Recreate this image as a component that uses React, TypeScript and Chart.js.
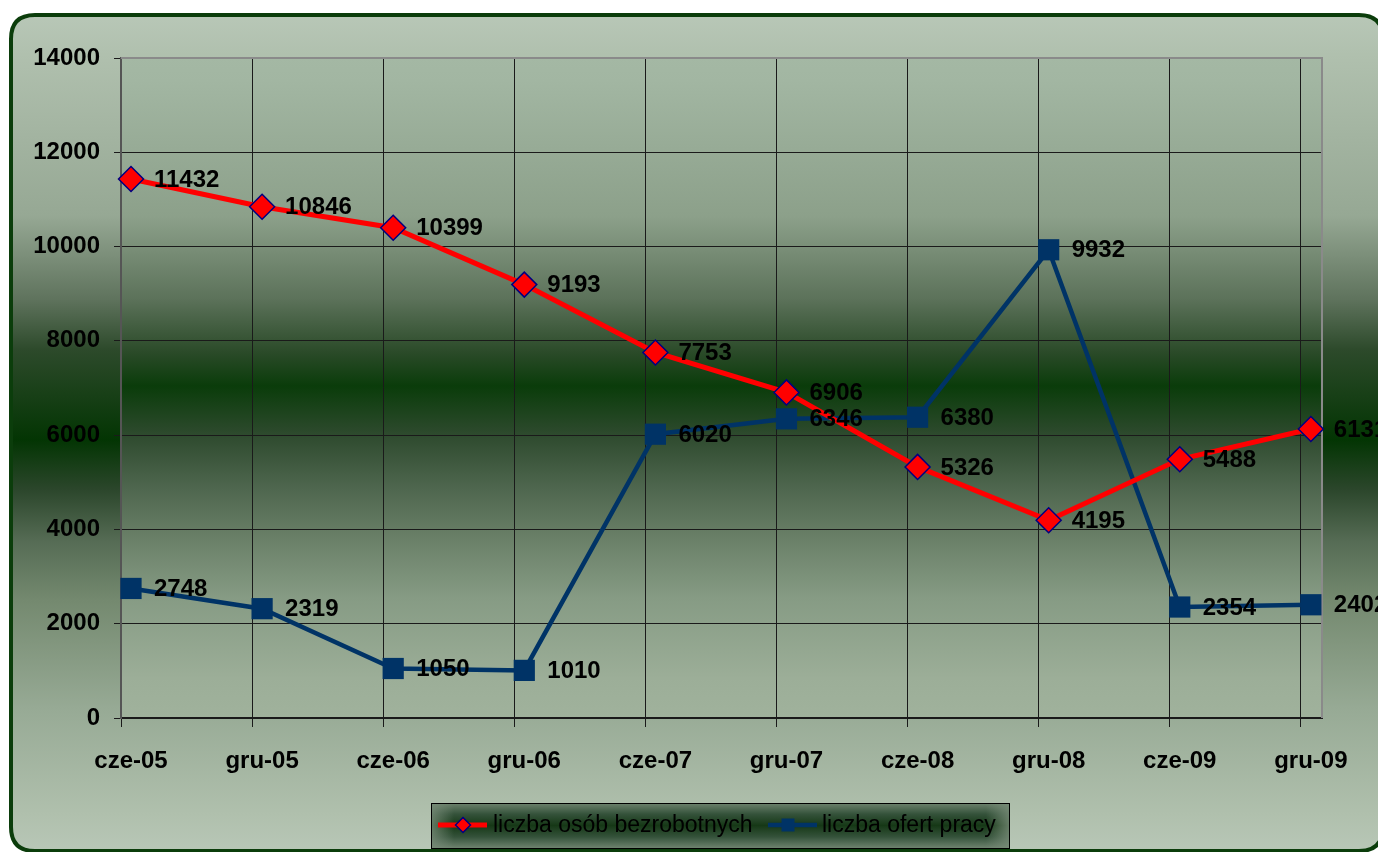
import React, { useEffect, useRef } from 'react';
import { Chart, registerables } from 'chart.js';

Chart.register(...registerables);

const CATEGORIES = ['cze-05', 'gru-05', 'cze-06', 'gru-06', 'cze-07', 'gru-07', 'cze-08', 'gru-08', 'cze-09', 'gru-09'];
const UNEMPLOYED = [11432, 10846, 10399, 9193, 7753, 6906, 5326, 4195, 5488, 6131];
const JOB_OFFERS = [2748, 2319, 1050, 1010, 6020, 6346, 6380, 9932, 2354, 2402];
const SERIES_NAMES = ['liczba osób bezrobotnych', 'liczba ofert pracy'];
const Y_MIN = 0;
const Y_MAX = 14000;
const Y_STEP = 2000;

const FONT = '"Liberation Sans", Arial, sans-serif';
const X_SHIFT = 0.0763;
const RED = '#ff0000';
const NAVY = '#003366';

function roundRectPath(ctx: CanvasRenderingContext2D, x: number, y: number, w: number, h: number, r: number) {
  ctx.beginPath();
  ctx.moveTo(x + r, y);
  ctx.lineTo(x + w - r, y);
  ctx.quadraticCurveTo(x + w, y, x + w, y + r);
  ctx.lineTo(x + w, y + h - r);
  ctx.quadraticCurveTo(x + w, y + h, x + w - r, y + h);
  ctx.lineTo(x + r, y + h);
  ctx.quadraticCurveTo(x, y + h, x, y + h - r);
  ctx.lineTo(x, y + r);
  ctx.quadraticCurveTo(x, y, x + r, y);
  ctx.closePath();
}

const backgroundPlugin = {
  id: 'bgPlugin',
  beforeDraw(chart: any) {
    const { ctx, width, height, chartArea: a } = chart;
    ctx.save();
    ctx.fillStyle = '#ffffff';
    ctx.fillRect(0, 0, width, height);
    const bx = 11, by = 15, bw = 1372, bh = 836;
    const g = ctx.createLinearGradient(0, by, 0, by + bh);
    g.addColorStop(0, '#b8c7b7');
    g.addColorStop(0.047, '#b0c0ae');
    g.addColorStop(0.24, '#96a894');
    g.addColorStop(0.34, '#5f735d');
    g.addColorStop(0.40, '#2d4a2b');
    g.addColorStop(0.508, '#033503');
    g.addColorStop(0.567, '#2b462b');
    g.addColorStop(0.63, '#566c55');
    g.addColorStop(0.70, '#74896f');
    g.addColorStop(0.83, '#97aa95');
    g.addColorStop(0.957, '#b0c0ad');
    g.addColorStop(1, '#b8c7b7');
    roundRectPath(ctx, bx, by, bw, bh, 24);
    ctx.fillStyle = g;
    ctx.fill();
    ctx.lineWidth = 4;
    ctx.strokeStyle = '#0b3d0b';
    ctx.stroke();

    const pg = ctx.createLinearGradient(0, a.top, 0, a.bottom);
    pg.addColorStop(0, '#a4b8a4');
    pg.addColorStop(0.035, '#a2b6a2');
    pg.addColorStop(0.24, '#8ca08a');
    pg.addColorStop(0.365, '#5c725a');
    pg.addColorStop(0.447, '#2a4a28');
    pg.addColorStop(0.497, '#0a3c0a');
    pg.addColorStop(0.571, '#2e4a2e');
    pg.addColorStop(0.653, '#4f674f');
    pg.addColorStop(0.735, '#6c826a');
    pg.addColorStop(0.818, '#869b84');
    pg.addColorStop(0.94, '#9cae98');
    pg.addColorStop(1, '#a0b29c');
    ctx.fillStyle = pg;
    ctx.fillRect(a.left, a.top, a.right - a.left, a.bottom - a.top);
    ctx.restore();
  },
  beforeDatasetsDraw(chart: any) {
    const { ctx, chartArea: a } = chart;
    ctx.save();
    ctx.strokeStyle = '#8a8a8a';
    ctx.lineWidth = 2;
    ctx.beginPath();
    ctx.moveTo(a.left, a.top);
    ctx.lineTo(a.right, a.top);
    ctx.lineTo(a.right, a.bottom);
    ctx.stroke();
    ctx.restore();
  },
};

const valueLabelPlugin = {
  id: 'valueLabels',
  afterDatasetsDraw(chart: any) {
    const ctx = chart.ctx;
    ctx.save();
    ctx.font = `bold 24px ${FONT}`;
    ctx.fillStyle = '#000000';
    ctx.textAlign = 'left';
    ctx.textBaseline = 'middle';
    chart.data.datasets.forEach((ds: any, di: number) => {
      const meta = chart.getDatasetMeta(di);
      meta.data.forEach((el: any, i: number) => {
        ctx.fillText(String(ds.data[i].y), el.x + 23, el.y + 1);
      });
    });
    ctx.restore();
  },
};

const legendPlugin = {
  id: 'customLegend',
  afterDraw(chart: any) {
    const ctx = chart.ctx;
    const lx = 431, ly = 803, lw = 578, lh = 45;
    ctx.save();
    const g = ctx.createLinearGradient(0, ly, 0, ly + lh);
    g.addColorStop(0, '#6e826e');
    g.addColorStop(0.25, '#34523a');
    g.addColorStop(0.5, '#163816');
    g.addColorStop(0.75, '#34523a');
    g.addColorStop(1, '#6e826e');
    ctx.fillStyle = g;
    ctx.fillRect(lx, ly, lw, lh);
    const h = ctx.createLinearGradient(lx, 0, lx + lw, 0);
    h.addColorStop(0, 'rgba(120,140,120,0.8)');
    h.addColorStop(0.04, 'rgba(120,140,120,0)');
    h.addColorStop(0.96, 'rgba(120,140,120,0)');
    h.addColorStop(1, 'rgba(120,140,120,0.8)');
    ctx.fillStyle = h;
    ctx.fillRect(lx, ly, lw, lh);
    ctx.strokeStyle = '#000000';
    ctx.lineWidth = 1;
    ctx.strokeRect(lx + 0.5, ly + 0.5, lw, lh);

    const cy = 825;
    ctx.strokeStyle = RED;
    ctx.lineWidth = 5;
    ctx.beginPath();
    ctx.moveTo(438, cy);
    ctx.lineTo(487, cy);
    ctx.stroke();
    ctx.beginPath();
    const dx = 463, dr = 7.5;
    ctx.moveTo(dx - dr, cy);
    ctx.lineTo(dx, cy - dr);
    ctx.lineTo(dx + dr, cy);
    ctx.lineTo(dx, cy + dr);
    ctx.closePath();
    ctx.fillStyle = RED;
    ctx.fill();
    ctx.strokeStyle = '#000080';
    ctx.lineWidth = 1.5;
    ctx.stroke();
    ctx.strokeStyle = NAVY;
    ctx.lineWidth = 4.5;
    ctx.beginPath();
    ctx.moveTo(768, cy);
    ctx.lineTo(817, cy);
    ctx.stroke();
    ctx.fillStyle = NAVY;
    ctx.fillRect(788 - 6.5, cy - 6.5, 13, 13);

    ctx.fillStyle = '#000000';
    ctx.font = `23px ${FONT}`;
    ctx.textAlign = 'left';
    ctx.textBaseline = 'middle';
    ctx.fillText(SERIES_NAMES[0], 493, cy + 1);
    ctx.fillText(SERIES_NAMES[1], 822, cy + 1);
    ctx.restore();
  },
};

export default function App() {
  const canvasRef = useRef<HTMLCanvasElement | null>(null);

  useEffect(() => {
    if (!canvasRef.current) return;
    const chart = new Chart(canvasRef.current, {
      type: 'line',
      data: {
        datasets: [
          {
            label: SERIES_NAMES[0],
            data: UNEMPLOYED.map((v, i) => ({ x: i, y: v })),
            borderColor: RED,
            borderWidth: 5,
            backgroundColor: RED,
            pointStyle: 'rectRot',
            pointRadius: 12.5,
            pointBackgroundColor: RED,
            pointBorderColor: '#000080',
            pointBorderWidth: 1.5,
            tension: 0,
            clip: false as any,
          },
          {
            label: SERIES_NAMES[1],
            data: JOB_OFFERS.map((v, i) => ({ x: i, y: v })),
            borderColor: NAVY,
            borderWidth: 4.5,
            backgroundColor: NAVY,
            pointStyle: 'rect',
            pointRadius: 15,
            pointBackgroundColor: NAVY,
            pointBorderColor: NAVY,
            pointBorderWidth: 0,
            tension: 0,
            clip: false as any,
          },
        ],
      },
      options: {
        responsive: false,
        maintainAspectRatio: false,
        animation: false,
        devicePixelRatio: 1,
        layout: { padding: { top: 58, right: 56, left: 0, bottom: 0 } },
        font: { family: FONT },
        plugins: {
          legend: { display: false },
          tooltip: { enabled: false },
        },
        scales: {
          x: {
            type: 'linear',
            min: -X_SHIFT,
            max: CATEGORIES.length - 1 + 0.085,
            afterBuildTicks: (s: any) => {
              s.ticks = CATEGORIES.map((_, i) => ({ value: i - X_SHIFT }));
            },
            ticks: {
              autoSkip: false,
              maxRotation: 0,
              minRotation: 0,
              labelOffset: 10,
              padding: 20,
              color: '#000000',
              font: { family: FONT, size: 24, weight: 'bold' },
              callback: (_v: any, i: number) => CATEGORIES[i],
            },
            grid: {
              color: (c: any) => (c.index === 0 ? 'rgba(0,0,0,0)' : '#1a1a1a'),
              lineWidth: 1,
              tickLength: 9,
              tickColor: '#1a1a1a',
              drawTicks: true,
            },
            border: { display: true, color: '#1a1a1a', width: 2 },
            afterFit: (s: any) => {
              s.height = 134;
              s.paddingLeft = 0;
              s.paddingRight = 0;
            },
          },
          y: {
            min: Y_MIN,
            max: Y_MAX,
            ticks: {
              stepSize: Y_STEP,
              padding: 14,
              color: '#000000',
              font: { family: FONT, size: 24, weight: 'bold' },
              callback: (v: any) => String(v),
            },
            grid: {
              color: (c: any) => (c.tick && c.tick.value === Y_MAX ? '#8a8a8a' : '#1a1a1a'),
              lineWidth: 1,
              tickLength: 7,
              tickColor: '#1a1a1a',
            },
            border: { display: true, color: '#555555', width: 2 },
            afterFit: (s: any) => {
              s.width = 121;
              s.paddingTop = 0;
              s.paddingBottom = 0;
            },
          },
        },
      } as any,
      plugins: [backgroundPlugin, valueLabelPlugin, legendPlugin],
    });
    return () => chart.destroy();
  }, []);

  return (
    <div style={{ position: 'absolute', left: 0, top: 0, width: 1378, height: 852 }}>
      <canvas ref={canvasRef} width={1378} height={852} style={{ display: 'block' }} />
    </div>
  );
}
